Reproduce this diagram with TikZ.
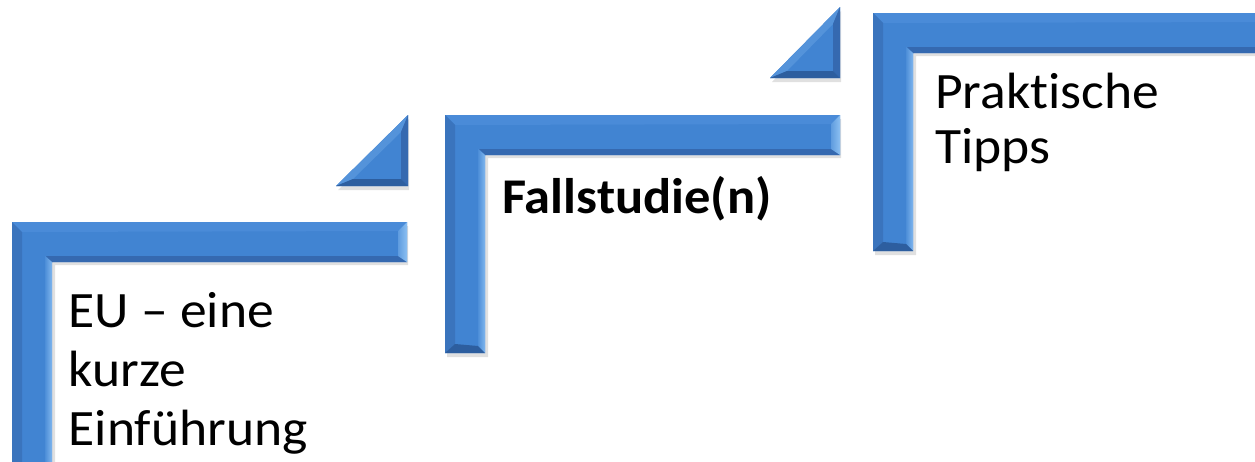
\documentclass[tikz,border=0pt]{standalone}
\usepackage{fontspec}
\setmainfont{Carlito}[Ligatures=NoCommon]
\definecolor{face}{HTML}{4184D2}
\definecolor{topb}{HTML}{4A8BD8}
\definecolor{leftb}{HTML}{3A74BD}
\definecolor{innerb}{HTML}{7FB6EE}
\definecolor{underb}{HTML}{3569B0}
\definecolor{capb}{HTML}{8CC0F2}
\definecolor{botb}{HTML}{2D5E9F}
\newcommand\stepshape[4]{%
  \fill[black,opacity=.12] ({#1+2},{#2+4}) -- ({#3+1},{#2+4}) -- ({#3+1},{#2+43}) -- ({#1+43},{#2+43}) -- ({#1+43},{#4+4}) -- ({#1+2},{#4+4}) -- cycle;
  \fill[face] (#1,#2) -- (#3,#2) -- (#3,{#2+40}) -- ({#1+40},{#2+40}) -- ({#1+40},#4) -- (#1,#4) -- cycle;
  \fill[topb] (#1,#2) -- (#3,#2) -- ({#3-9},{#2+9}) -- ({#1+10},{#2+10}) -- cycle;
  \fill[leftb] (#1,#4) -- (#1,#2) -- ({#1+10},{#2+10}) -- ({#1+10},{#4-9}) -- cycle;
  \fill[underb] (#3,{#2+40}) -- ({#1+40},{#2+40}) -- ({#1+34},{#2+34}) -- ({#3-7},{#2+34}) -- cycle;
  \shade[left color=face!80!innerb,right color=innerb] ({#1+40},{#2+40}) -- ({#1+40},#4) -- ({#1+33},{#4-7}) -- ({#1+33},{#2+34}) -- cycle;
  \shade[left color=face!60!capb,right color=capb] (#3,#2) -- (#3,{#2+40}) -- ({#3-9},{#2+34}) -- ({#3-9},{#2+9}) -- cycle;
  \fill[botb] ({#1+40},#4) -- (#1,#4) -- ({#1+10},{#4-9}) -- ({#1+33},{#4-7}) -- cycle;
}
\newcommand\steptri[4]{% xright ytop xleft ybottom
  \fill[black,opacity=.12] ({#3+2},{#4+4}) -- ({#1+1},{#4+4}) -- ({#1+1},{#2+4}) -- cycle;
  \fill[face] (#1,#2) -- (#3,#4) -- (#1,#4) -- cycle;
  \fill[face!70!innerb] (#1,#2) -- (#3,#4) -- ({#3+17},{#4-7}) -- ({#1-7},{#2+17}) -- cycle;
  \fill[underb] (#1,#2) -- (#1,#4) -- ({#1-7},{#4-7}) -- ({#1-7},{#2+17}) -- cycle;
  \fill[botb] (#1,#4) -- (#3,#4) -- ({#3+17},{#4-7}) -- ({#1-7},{#4-7}) -- cycle;
}
\begin{document}
\begin{tikzpicture}[x=1pt,y=-1pt,
  steptext/.style={anchor=base west,inner sep=0pt,align=left,xscale=1.05,font=\fontsize{51}{59}\selectfont}]
\useasboundingbox (0,0) rectangle (1255,461);
\clip (0,0) rectangle (1255,461);
\fill[white] (0,0) rectangle (1255,461);
\stepshape{12}{222}{407}{475}
\stepshape{445}{115}{840}{353}
\stepshape{873}{13}{1275}{251}
\steptri{408}{115}{336}{186}
\steptri{840}{7}{770}{78}
\node[steptext] (t1) at (68.5,445) {EU -- eine\\kurze\\Einführung};
\node[steptext,font=\bfseries\fontsize{50}{58}\selectfont] (t2) at (502,213) {Fallstudie(n)};
\node[steptext,font=\fontsize{51}{55}\selectfont] (t3) at (935,163) {Praktische\\Tipps};
\end{tikzpicture}
\end{document}
